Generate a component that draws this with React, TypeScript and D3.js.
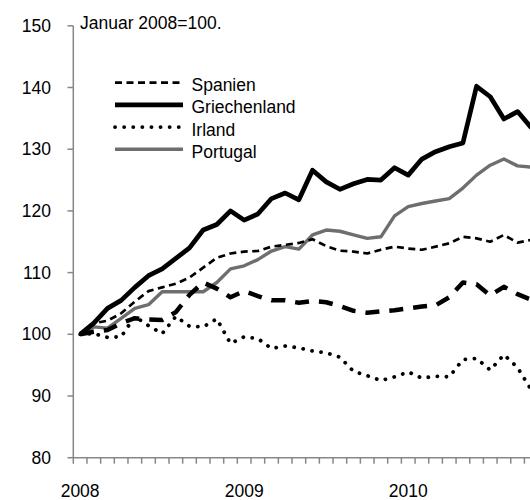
import React from "react";
import * as d3 from "d3";

const months = [
  "2008-01","2008-02","2008-03","2008-04","2008-05","2008-06","2008-07","2008-08","2008-09","2008-10","2008-11","2008-12",
  "2009-01","2009-02","2009-03","2009-04","2009-05","2009-06","2009-07","2009-08","2009-09","2009-10","2009-11","2009-12",
  "2010-01","2010-02","2010-03","2010-04","2010-05","2010-06","2010-07","2010-08","2010-09","2010-10",
];
const yearLabels = ["2008", "2009", "2010"];
const yearMonths = ["2008-01", "2009-01", "2010-01"];
const yTicks = [80, 90, 100, 110, 120, 130, 140, 150];

const spanien = [100, 101.8, 102.2, 103.4, 105.3, 107.0, 107.6, 108.2, 109.2, 110.8, 112.4, 113.1, 113.4, 113.5, 114.2, 114.5, 114.8, 115.4, 114.3, 113.55, 113.4, 113.1, 113.7, 114.2, 113.9, 113.7, 114.2, 114.75, 115.8, 115.55, 115.0, 116.1, 114.85, 115.3];
const griechenland = [100, 101.8, 104.2, 105.5, 107.6, 109.5, 110.6, 112.3, 114.0, 116.9, 117.8, 120.0, 118.5, 119.5, 122.0, 122.9, 121.8, 126.6, 124.7, 123.5, 124.4, 125.1, 125.0, 127.0, 125.8, 128.4, 129.6, 130.4, 131.0, 140.2, 138.5, 134.9, 136.1, 133.5];
const irland = [100, 100.1, 99.5, 99.6, 102.9, 101.4, 100.1, 102.9, 101.3, 101.2, 102.5, 98.5, 99.6, 99.3, 97.7, 98.1, 97.8, 97.3, 97.0, 96.3, 94.0, 93.3, 92.5, 93.1, 93.9, 92.9, 93.2, 93.1, 95.9, 96.1, 94.2, 96.7, 94.6, 91.0];
const portugal = [100, 101.2, 101.0, 102.6, 104.2, 104.8, 106.9, 106.9, 106.9, 106.9, 108.4, 110.6, 111.1, 112.1, 113.5, 114.2, 113.8, 116.1, 116.9, 116.7, 116.1, 115.55, 115.8, 119.2, 120.7, 121.2, 121.6, 122.0, 123.7, 125.8, 127.4, 128.4, 127.3, 127.1];
const weitere = [100, 100.4, 100.7, 101.8, 102.6, 102.4, 102.3, 103.6, 106.4, 108.4, 107.4, 106.0, 107.0, 106.2, 105.5, 105.5, 105.1, 105.4, 105.2, 104.6, 103.8, 103.5, 103.7, 103.9, 104.2, 104.5, 104.7, 106.0, 108.4, 108.1, 106.3, 107.7, 106.5, 105.6];

const legendNames = ["Spanien", "Griechenland", "Irland", "Portugal"];
const noteText = "Januar 2008=100.";

const FONT = "'Liberation Sans', Arial, sans-serif";

export default function App() {
  const W = 530, H = 500;
  const x = d3.scaleBand<string>().domain(months).range([73.3, 73.3 + months.length * 13.67]).paddingInner(0).paddingOuter(0);
  const y = d3.scaleLinear().domain([80, 150]).range([457.7, 25.8]);
  const cx = (m: string) => (x(m) as number) + x.bandwidth() / 2;
  const line = d3.line<number>().x((_, i) => cx(months[i])).y((d) => y(d));

  const axisColor = "#878787";
  const styles = {
    spanien: { stroke: "#000", strokeWidth: 2.7, strokeDasharray: "7 4.5", strokeLinecap: "butt" as const },
    griechenland: { stroke: "#000", strokeWidth: 4.7, strokeDasharray: undefined, strokeLinecap: "butt" as const },
    irland: { stroke: "#000", strokeWidth: 3.8, strokeDasharray: "0.1 9", strokeLinecap: "round" as const },
    portugal: { stroke: "#6e6e6e", strokeWidth: 3.4, strokeDasharray: undefined, strokeLinecap: "butt" as const },
    weitere: { stroke: "#000", strokeWidth: 4.5, strokeDasharray: "14 10", strokeLinecap: "butt" as const },
  };
  const series = [
    { key: "portugal", data: portugal },
    { key: "spanien", data: spanien },
    { key: "weitere", data: weitere },
    { key: "irland", data: irland },
    { key: "griechenland", data: griechenland },
  ];
  const legendKeys = ["spanien", "griechenland", "irland", "portugal"];
  const axisBottomY = y(80);
  const boundaries = months.map((m) => x(m) as number);

  return (
    <svg width={W} height={H} style={{ position: "absolute", left: 0, top: 0, background: "#fff" }} fontFamily={FONT}>
      <rect x={0} y={0} width={W} height={H} fill="#fff" />
      {/* y axis */}
      <line x1={73.3} x2={73.3} y1={y(150)} y2={axisBottomY} stroke={axisColor} strokeWidth={1.5} />
      {yTicks.map((t) => (
        <g key={t}>
          <line x1={67.5} x2={73.3} y1={y(t)} y2={y(t)} stroke={axisColor} strokeWidth={1.5} />
          <text x={51} y={y(t)} dy="0.35em" textAnchor="end" fontSize={17.5} fill="#000">{t}</text>
        </g>
      ))}
      {/* x axis */}
      <line x1={73.3} x2={W + 10} y1={axisBottomY} y2={axisBottomY} stroke={axisColor} strokeWidth={1.5} />
      {boundaries.map((b, i) => (
        <line key={i} x1={b} x2={b} y1={axisBottomY} y2={axisBottomY + 6} stroke={axisColor} strokeWidth={1.5} />
      ))}
      {yearLabels.map((lab, i) => (
        <text key={lab} x={cx(yearMonths[i])} y={497} textAnchor="middle" fontSize={17.5} fill="#000">{lab}</text>
      ))}
      <text x={80} y={28.5} fontSize={17.5} fill="#000">{noteText}</text>
      {/* series */}
      {series.map((s) => {
        const st = (styles as any)[s.key];
        return (
          <path key={s.key} d={line(s.data) || ""} fill="none" stroke={st.stroke} strokeWidth={st.strokeWidth}
            strokeDasharray={st.strokeDasharray} strokeLinecap={st.strokeLinecap} strokeLinejoin="round" />
        );
      })}
      {/* legend */}
      {legendKeys.map((k, i) => {
        const st = (styles as any)[k];
        const ly = 82.7 + i * 22.2;
        return (
          <g key={k}>
            <line x1={115} x2={183} y1={ly} y2={ly} stroke={st.stroke} strokeWidth={st.strokeWidth}
              strokeDasharray={st.strokeDasharray} strokeLinecap={st.strokeLinecap} />
            <text x={191.5} y={ly + 8.5} fontSize={17.5} fill="#000">{legendNames[i]}</text>
          </g>
        );
      })}
    </svg>
  );
}
